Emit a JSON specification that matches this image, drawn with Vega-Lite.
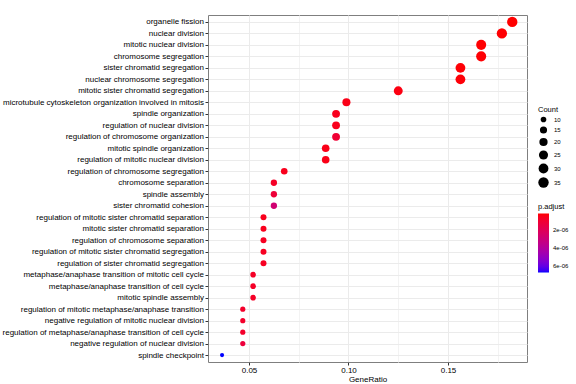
{
  "$schema": "https://vega.github.io/schema/vega-lite/v6.json",
  "width": 319,
  "height": 347,
  "autosize": {"type": "none"},
  "padding": {"left": 208, "top": 15, "right": 49, "bottom": 22},
  "background": "white",
  "config": {
    "font": "Liberation Sans",
    "view": {"stroke": "#7f7f7f", "strokeWidth": 1}
  },
  "data": {
    "values": [
      {"Description": "organelle fission", "Count": 35, "GeneRatio": 0.18229, "p_adjust": 2.2e-7},
      {"Description": "nuclear division", "Count": 34, "GeneRatio": 0.17708, "p_adjust": 2.5e-7},
      {"Description": "mitotic nuclear division", "Count": 32, "GeneRatio": 0.16667, "p_adjust": 2.4e-7},
      {"Description": "chromosome segregation", "Count": 32, "GeneRatio": 0.16667, "p_adjust": 2.6e-7},
      {"Description": "sister chromatid segregation", "Count": 30, "GeneRatio": 0.15625, "p_adjust": 2.8e-7},
      {"Description": "nuclear chromosome segregation", "Count": 30, "GeneRatio": 0.15625, "p_adjust": 3.0e-7},
      {"Description": "mitotic sister chromatid segregation", "Count": 24, "GeneRatio": 0.125, "p_adjust": 4.0e-7},
      {"Description": "microtubule cytoskeleton organization involved in mitosis", "Count": 19, "GeneRatio": 0.09896, "p_adjust": 5.0e-7},
      {"Description": "spindle organization", "Count": 18, "GeneRatio": 0.09375, "p_adjust": 6.0e-7},
      {"Description": "regulation of nuclear division", "Count": 18, "GeneRatio": 0.09375, "p_adjust": 6.0e-7},
      {"Description": "regulation of chromosome organization", "Count": 18, "GeneRatio": 0.09375, "p_adjust": 1.1e-6},
      {"Description": "mitotic spindle organization", "Count": 17, "GeneRatio": 0.08854, "p_adjust": 5.0e-7},
      {"Description": "regulation of mitotic nuclear division", "Count": 17, "GeneRatio": 0.08854, "p_adjust": 5.0e-7},
      {"Description": "regulation of chromosome segregation", "Count": 13, "GeneRatio": 0.06771, "p_adjust": 6.0e-7},
      {"Description": "chromosome separation", "Count": 12, "GeneRatio": 0.0625, "p_adjust": 8.0e-7},
      {"Description": "spindle assembly", "Count": 12, "GeneRatio": 0.0625, "p_adjust": 1.2e-6},
      {"Description": "sister chromatid cohesion", "Count": 12, "GeneRatio": 0.0625, "p_adjust": 2.8e-6},
      {"Description": "regulation of mitotic sister chromatid separation", "Count": 11, "GeneRatio": 0.05729, "p_adjust": 6.0e-7},
      {"Description": "mitotic sister chromatid separation", "Count": 11, "GeneRatio": 0.05729, "p_adjust": 6.0e-7},
      {"Description": "regulation of chromosome separation", "Count": 11, "GeneRatio": 0.05729, "p_adjust": 7.0e-7},
      {"Description": "regulation of mitotic sister chromatid segregation", "Count": 11, "GeneRatio": 0.05729, "p_adjust": 7.0e-7},
      {"Description": "regulation of sister chromatid segregation", "Count": 11, "GeneRatio": 0.05729, "p_adjust": 7.0e-7},
      {"Description": "metaphase/anaphase transition of mitotic cell cycle", "Count": 10, "GeneRatio": 0.05208, "p_adjust": 8.0e-7},
      {"Description": "metaphase/anaphase transition of cell cycle", "Count": 10, "GeneRatio": 0.05208, "p_adjust": 8.0e-7},
      {"Description": "mitotic spindle assembly", "Count": 10, "GeneRatio": 0.05208, "p_adjust": 8.0e-7},
      {"Description": "regulation of mitotic metaphase/anaphase transition", "Count": 9, "GeneRatio": 0.04688, "p_adjust": 9.0e-7},
      {"Description": "negative regulation of mitotic nuclear division", "Count": 9, "GeneRatio": 0.04688, "p_adjust": 9.0e-7},
      {"Description": "regulation of metaphase/anaphase transition of cell cycle", "Count": 9, "GeneRatio": 0.04688, "p_adjust": 9.0e-7},
      {"Description": "negative regulation of nuclear division", "Count": 9, "GeneRatio": 0.04688, "p_adjust": 1.3e-6},
      {"Description": "spindle checkpoint", "Count": 7, "GeneRatio": 0.03646, "p_adjust": 6.67e-6}
    ]
  },
  "mark": {"type": "circle", "opacity": 1, "strokeWidth": 0},
  "encoding": {
    "x": {
      "field": "GeneRatio",
      "type": "quantitative",
      "scale": {"domain": [0.0294, 0.1897], "nice": false, "zero": false},
      "axis": {
        "title": "GeneRatio",
        "titleFontSize": 8,
        "titleFontWeight": "normal",
        "titleColor": "black",
        "titlePadding": 1,
        "values": [0.05, 0.075, 0.1, 0.125, 0.15, 0.175],
        "labelExpr": "round(datum.value * 1000) % 50 == 0 ? format(datum.value, '.2f') : ''",
        "labelFontSize": 8,
        "labelColor": "black",
        "labelPadding": 1,
        "labelFlush": false,
        "tickSize": 3,
        "tickColor": "#333333",
        "tickOpacity": {"condition": {"test": "round(datum.value * 1000) % 50 != 0", "value": 0}, "value": 1},
        "domain": false,
        "grid": true,
        "gridColor": {"condition": {"test": "round(datum.value * 1000) % 50 != 0", "value": "#F3F3F3"}, "value": "#EBEBEB"},
        "gridWidth": 1
      }
    },
    "y": {
      "field": "Description",
      "type": "nominal",
      "sort": null,
      "scale": {"type": "point", "padding": 0.6},
      "axis": {
        "title": null,
        "labelFontSize": 8,
        "labelColor": "black",
        "labelLimit": 400,
        "labelPadding": 1.5,
        "tickSize": 3,
        "tickColor": "#333333",
        "domain": false,
        "grid": true,
        "gridColor": "#EBEBEB",
        "gridWidth": 1
      }
    },
    "size": {
      "field": "Count",
      "type": "quantitative",
      "scale": {"type": "sqrt", "domain": [7, 35], "range": [17, 108], "zero": false},
      "legend": {
        "title": "Count",
        "orient": "none",
        "legendX": 330,
        "legendY": 91,
        "direction": "vertical",
        "values": [10, 15, 20, 25, 30, 35],
        "symbolType": "circle",
        "symbolFillColor": "black",
        "symbolStrokeWidth": 0,
        "symbolOpacity": 1,
        "titleFontSize": 7.5,
        "titleFontWeight": "normal",
        "titleColor": "black",
        "titlePadding": 3,
        "labelFontSize": 6,
        "labelColor": "black",
        "labelOffset": 5,
        "rowPadding": 3.5
      }
    },
    "color": {
      "field": "p_adjust",
      "type": "quantitative",
      "scale": {"domain": [6.67e-6, 2.2e-7], "range": ["#0000FF", "#FF0000"], "interpolate": "lab", "zero": false, "nice": false},
      "legend": {
        "title": "p.adjust",
        "orient": "none",
        "legendX": 330,
        "legendY": 188,
        "direction": "vertical",
        "values": [2e-6, 4e-6, 6e-6],
        "labelExpr": "replace(format(datum.value, '.0e'), 'e-', 'e-0')",
        "gradientLength": 59,
        "gradientThickness": 11,
        "gradientStrokeWidth": 0,
        "titleFontSize": 7.5,
        "titleFontWeight": "normal",
        "titleColor": "black",
        "titlePadding": 3,
        "labelFontSize": 6,
        "labelColor": "black",
        "labelOffset": 4
      }
    }
  }
}
